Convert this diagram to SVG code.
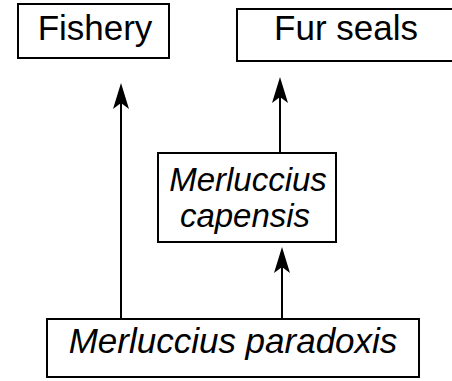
<svg xmlns="http://www.w3.org/2000/svg" width="452" height="381" viewBox="0 0 452 381">
<style>
.box{fill:#fff;stroke:#000;stroke-width:2}
.t{font-family:"Liberation Sans",Arial,sans-serif;font-size:35px;fill:#000;text-anchor:middle}
.i{font-style:italic}
.s{font-size:33px}
.c{stroke:#000;stroke-width:2;fill:none}
</style>
<defs>
<marker id="ah" markerUnits="userSpaceOnUse" markerWidth="28" markerHeight="18" refX="19" refY="9" orient="auto" viewBox="0 0 28 18">
<path d="M27 9 L1 1 L7 9 L1 17 Z" fill="#000"/>
</marker>
</defs>
<rect width="452" height="381" fill="#fff"/>
<g id="connectors">
<path class="c" d="M121 319 V91" marker-end="url(#ah)"/>
<path class="c" d="M280 153 V85" marker-end="url(#ah)"/>
<path class="c" d="M282 319 V255" marker-end="url(#ah)"/>
</g>
<g id="fishery">
<rect class="box" x="18" y="4" width="151" height="54"/>
<text class="t" x="95" y="40">Fishery</text>
</g>
<g id="fur-seals">
<rect class="box" x="237" y="9" width="230" height="52"/>
<text class="t" x="346" y="40">Fur seals</text>
</g>
<g id="capensis">
<rect class="box" x="158" y="153" width="178" height="89"/>
<text class="t i s" x="248" y="191">Merluccius</text>
<text class="t i s" x="245" y="227">capensis</text>
</g>
<g id="paradoxis">
<rect class="box" x="47" y="319" width="372" height="58"/>
<text class="t i" x="233" y="353">Merluccius paradoxis</text>
</g>
</svg>
